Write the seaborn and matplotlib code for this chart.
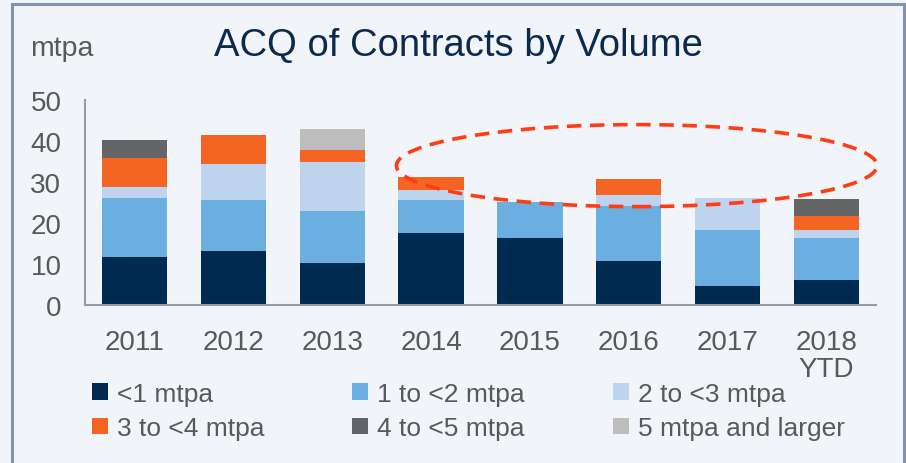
import matplotlib

matplotlib.use("Agg", force=True)

import matplotlib.pyplot as plt
import numpy as np
import pandas as pd
import seaborn as sns
from matplotlib.patches import Ellipse, Patch, Rectangle

years = ["2011", "2012", "2013", "2014", "2015", "2016", "2017", "2018\nYTD"]
series = ["<1 mtpa", "1 to <2 mtpa", "2 to <3 mtpa", "3 to <4 mtpa", "4 to <5 mtpa", "5 mtpa and larger"]
lt1 = [11.7, 13.2, 10.2, 17.6, 16.4, 10.7, 4.7, 6.0]
one_two = [14.4, 12.4, 12.7, 8.0, 8.8, 13.4, 13.7, 10.3]
two_three = [2.6, 8.9, 12.0, 2.4, 0.0, 2.8, 7.8, 2.1]
three_four = [7.2, 6.9, 3.0, 3.1, 0.0, 3.9, 0.0, 3.4]
four_five = [4.3, 0.0, 0.0, 0.0, 0.0, 0.0, 0.0, 4.1]
five_plus = [0.0, 0.0, 5.1, 0.0, 0.0, 0.0, 0.0, 0.0]
colors = ["#002a4f", "#6aafdf", "#bed4ee", "#f46524", "#646567", "#bdbdbd"]

BG = "#f1f5fa"
TXT = "#595959"

df = pd.DataFrame(
    {"year": years, series[0]: lt1, series[1]: one_two, series[2]: two_three,
     series[3]: three_four, series[4]: four_five, series[5]: five_plus}
)

sns.set_theme(style="white")
plt.rcParams["font.family"] = ["Liberation Sans", "DejaVu Sans"]

fig = plt.figure(figsize=(9.06, 4.64), dpi=100, facecolor=BG)
ax = fig.add_axes([85 / 906, 1 - 306 / 464, 791 / 906, 205 / 464])
ax.set_facecolor(BG)

bottom = np.zeros(len(years))
for name, col in zip(series, colors):
    sns.barplot(data=df, x="year", y=name, bottom=bottom, color=col, width=0.66,
                linewidth=0, saturation=1, ax=ax)
    bottom = bottom + df[name].to_numpy()

ax.set_ylim(0, 50)
ax.set_yticks(range(0, 51, 10))
ax.set_xlabel("")
ax.set_ylabel("")
ax.tick_params(axis="both", length=0, labelsize=20, labelcolor=TXT)
ax.tick_params(axis="y", pad=17)
ax.tick_params(axis="x", pad=17)
for lab in ax.get_xticklabels():
    lab.set_linespacing(1.08)
for s in ["top", "right"]:
    ax.spines[s].set_visible(False)
for s in ["left", "bottom"]:
    ax.spines[s].set_color("#9a9a9a")
    ax.spines[s].set_linewidth(1.5)

# dashed highlight round 2014-2018
ax.add_patch(Ellipse((5.08, 34.0), 4.86, 20.0, fill=False, edgecolor="#ff3c14",
                     linewidth=2.6, linestyle=(0, (4, 2.4)), clip_on=False, zorder=5))

fig.text(458 / 906, 1 - 46 / 464, "ACQ of Contracts by Volume", ha="center", va="center",
         fontsize=27.5, color="#0b2a4e")
fig.text(30 / 906, 1 - 49 / 464, "mtpa", ha="left", va="center", fontsize=20.5, color=TXT)

handles = [Patch(facecolor=c, edgecolor="none", label=s) for s, c in zip(series, colors)]
order = [0, 3, 1, 4, 2, 5]
fig.legend([handles[i] for i in order], [series[i] for i in order], ncol=3,
           loc="upper left", bbox_to_anchor=(68 / 906, 1 - 359 / 464), frameon=False,
           fontsize=19, labelcolor=TXT, handlelength=0.6, handleheight=0.6,
           handletextpad=0.35, columnspacing=3.33, labelspacing=0.4)

fig.add_artist(Rectangle((12 / 906, -0.05), 892 / 906, 1.05 - 5 / 464, transform=fig.transFigure,
                         fill=False, edgecolor="#8194ad", linewidth=2.2))

fig.savefig("out.png", dpi=100, facecolor=BG)
